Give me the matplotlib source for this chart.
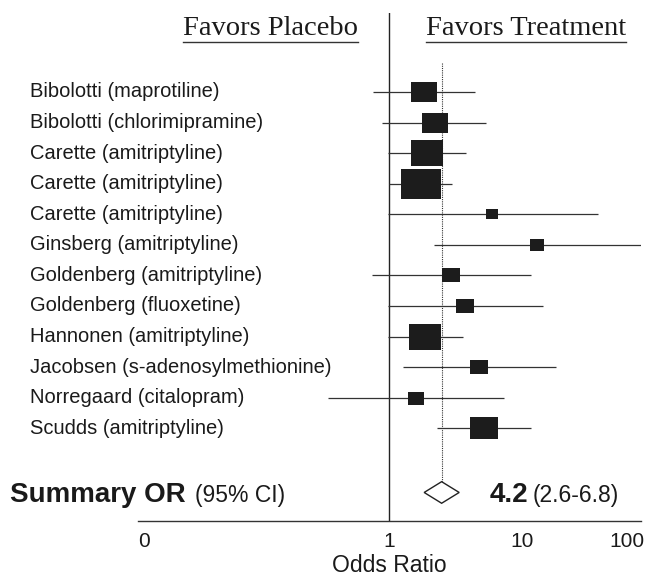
import matplotlib
matplotlib.use('Agg')
import matplotlib.pyplot as plt
from matplotlib.path import Path
from matplotlib.lines import Line2D
from matplotlib import transforms
from matplotlib.ticker import NullLocator, FixedLocator, FixedFormatter

# ---------------- data ----------------
studies = [
    "Bibolotti (maprotiline)",
    "Bibolotti (chlorimipramine)",
    "Carette (amitriptyline)",
    "Carette (amitriptyline)",
    "Carette (amitriptyline)",
    "Ginsberg (amitriptyline)",
    "Goldenberg (amitriptyline)",
    "Goldenberg (fluoxetine)",
    "Hannonen (amitriptyline)",
    "Jacobsen (s-adenosylmethionine)",
    "Norregaard (citalopram)",
    "Scudds (amitriptyline)",
]
odds_ratio = [2.59, 3.46, 2.81, 2.39, 16.9, 57.9, 5.44, 7.98, 2.69, 11.7, 2.09, 13.4]
ci_low = [0.634, 0.818, 0.965, 0.99, 0.965, 3.41, 0.617, 0.957, 0.957, 1.47, 0.186, 3.73]
ci_high = [10.5, 14.2, 8.2, 5.54, 305, 990, 48.4, 68.5, 7.50, 96.2, 23.1, 49.3]
weights = [4.0, 4.0, 6.4, 9.6, 1.0, 1.28, 1.96, 2.16, 6.6, 2.04, 1.69, 4.54]
summary_or = 4.2
summary_low = 2.6
summary_high = 6.8
tick_values = [0.0012, 1, 37.8, 681]
tick_labels = ['0', '1', '10', '100']

# ---------------- layout ----------------
W, H, DPI = 647, 578, 100
fig = plt.figure(figsize=(W / DPI, H / DPI), dpi=DPI)
fig.patch.set_facecolor('white')

SANS = 'Liberation Sans'
TXT = '#1a1a1a'
ax_left, ax_right, ax_top, ax_bottom = 137.7, 641.0, 13.0, 520.7
ax = fig.add_axes([ax_left / W, 1 - ax_bottom / H,
                   (ax_right - ax_left) / W, (ax_bottom - ax_top) / H])
ax.set_xscale('log')
ax.set_xlim(0.001, 1000)
row0_px, row_step = 92.0, 30.57
ax.set_ylim((ax_bottom - row0_px) / row_step, (ax_top - row0_px) / row_step)

rows = list(range(len(studies)))
summary_y = 13.1

for s in ['left', 'right', 'top']:
    ax.spines[s].set_visible(False)
ax.spines['bottom'].set_color('#333333')
ax.spines['bottom'].set_linewidth(1.0)
ax.set_yticks([])
ax.xaxis.set_major_locator(FixedLocator(tick_values))
ax.xaxis.set_major_formatter(FixedFormatter(tick_labels))
ax.xaxis.set_minor_locator(NullLocator())
ax.tick_params(axis='x', length=0, pad=8, labelsize=15, labelcolor=TXT)
for lab in ax.get_xticklabels():
    lab.set_family(SANS)
ax.set_xlabel('Odds Ratio', fontsize=16.5, family=SANS, color=TXT, labelpad=2)

# reference lines
ax.axvline(1, color='#222222', lw=1.0, zorder=1)
ax.plot([summary_or, summary_or], [-0.95, summary_y - 0.353],
        ls=(0, (1, 1)), lw=0.8, color='#333333', zorder=1)

# confidence intervals
ax.hlines(rows, ci_low, ci_high, color='#333333', lw=0.9, zorder=2)

# weighted boxes (slightly wider than tall)
aspect = 1.27
rect = Path([(-aspect / 2, -0.5), (aspect / 2, -0.5), (aspect / 2, 0.5),
             (-aspect / 2, 0.5), (-aspect / 2, -0.5)],
            [Path.MOVETO, Path.LINETO, Path.LINETO, Path.LINETO, Path.CLOSEPOLY])
for y, o, w in zip(rows, odds_ratio, weights):
    h_px = 10.0 * w ** 0.5
    ms = aspect * h_px * 72.0 / DPI
    ax.plot([o], [y], marker=rect, ms=ms, color='#1c1c1c', mew=0, ls='none', zorder=3)

# summary diamond
ax.fill([summary_low, summary_or, summary_high, summary_or],
        [summary_y, summary_y - 0.353, summary_y, summary_y + 0.353],
        facecolor='white', edgecolor='#222222', lw=1.0, zorder=3)

# study labels
trans = transforms.blended_transform_factory(fig.transFigure, ax.transData)
for y, name in zip(rows, studies):
    ax.text(30 / W, y, name, transform=trans, ha='left', va='center',
            fontsize=14.5, family=SANS, color=TXT, clip_on=False)

base_y = summary_y + 9.5 / row_step
ax.text(10 / W, base_y, 'Summary OR', transform=trans, ha='left', va='baseline',
        fontsize=20, fontweight='bold', family=SANS, color=TXT, clip_on=False)
ax.text(195 / W, base_y, '(95% CI)', transform=trans, ha='left', va='baseline',
        fontsize=16.5, family=SANS, color=TXT, clip_on=False)
ax.text(490 / W, base_y, f'{summary_or:.1f}', transform=trans, ha='left', va='baseline',
        fontsize=20, fontweight='bold', family=SANS, color=TXT, clip_on=False)
ax.text(533 / W, base_y, f'({summary_low:.1f}-{summary_high:.1f})', transform=trans,
        ha='left', va='baseline', fontsize=16.5, family=SANS, color=TXT, clip_on=False)

# headers
h1 = fig.text(358 / W, 1 - 35 / H, 'Favors Placebo', ha='right', va='baseline',
              fontsize=20.5, family='Liberation Serif', color=TXT)
h2 = fig.text(426 / W, 1 - 35 / H, 'Favors Treatment', ha='left', va='baseline',
              fontsize=20.5, family='Liberation Serif', color=TXT)
fig.canvas.draw()
r = fig.canvas.get_renderer()
for t in (h1, h2):
    bb = t.get_window_extent(r)
    yline = 1 - 41.7 / H
    fig.add_artist(Line2D([bb.x0 / W, bb.x1 / W], [yline, yline],
                          transform=fig.transFigure, color='#333333', lw=1.0))

fig.savefig('out.png', dpi=DPI)
